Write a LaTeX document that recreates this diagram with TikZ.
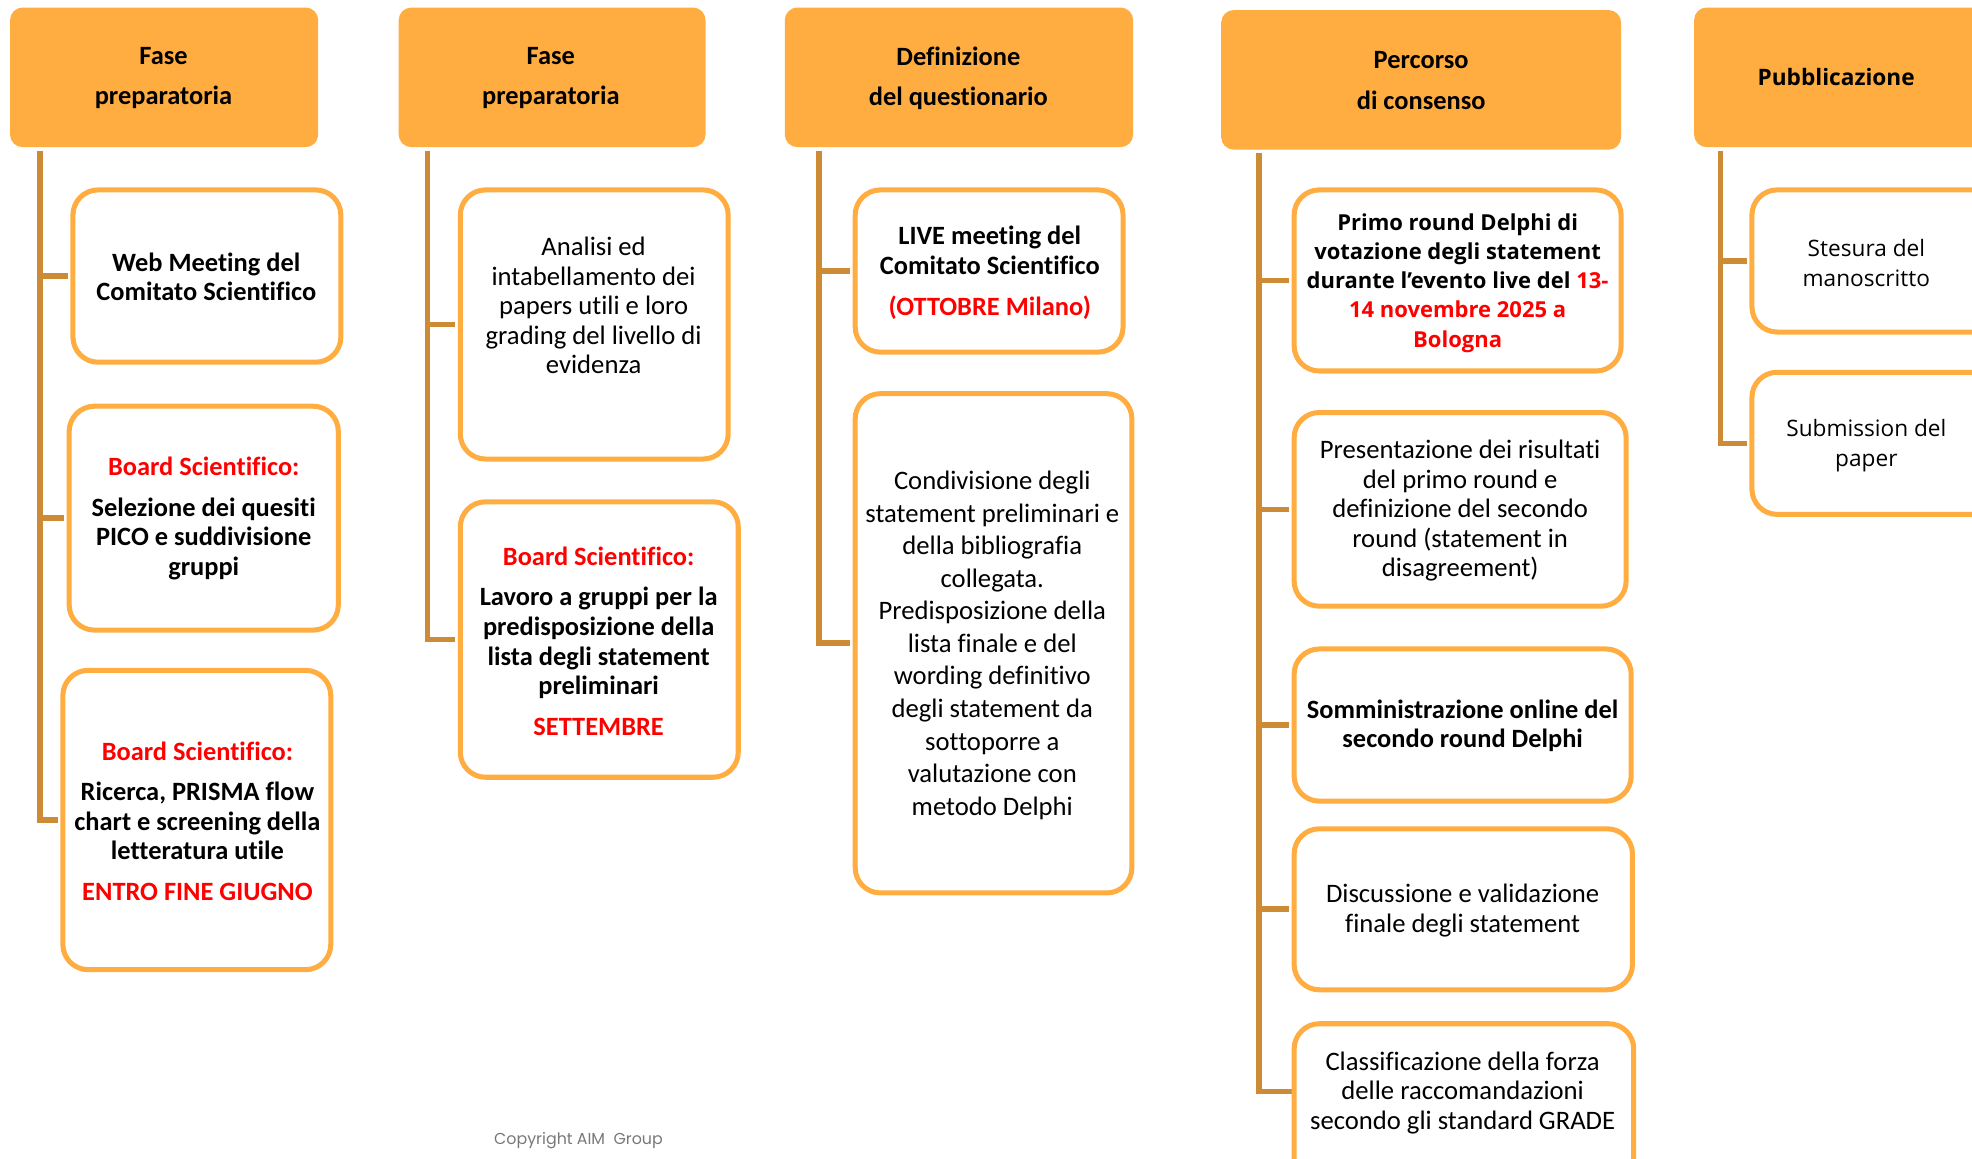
\documentclass[tikz,border=0pt]{standalone}
\usepackage{fontspec}
\setmainfont{Carlito}[Ligatures=NoCommon]
\newfontfamily\osans{Open Sans}
\newfontfamily\pops{Poppins}
\usetikzlibrary{fit,backgrounds}
\definecolor{hdr}{RGB}{255,173,64}
\definecolor{brd}{RGB}{255,173,64}
\definecolor{trk}{RGB}{205,139,53}
\definecolor{rd}{RGB}{255,0,0}
\definecolor{cpy}{RGB}{120,120,120}
\begin{document}
\begin{tikzpicture}[x=1pt,y=-1pt,
  hdrbox/.style={fill=hdr, rounded corners=10pt, inner sep=0pt},
  stagebox/.style={draw=brd, line width=4pt, fill=white, rounded corners=20pt, inner sep=0pt},
  trunk/.style={draw=trk, line width=4.5pt, line join=miter},
  txt/.style={align=center, inner sep=0pt, font=\fontsize{21.2}{23.5}\selectfont},
  btxt/.style={align=center, inner sep=0pt, font=\fontsize{21}{23.5}\selectfont\bfseries},
  htxt/.style={align=center, inner sep=0pt, font=\fontsize{21}{32}\selectfont\bfseries},
  otxt/.style={align=center, inner sep=0pt, font=\fontsize{18}{24}\selectfont\osans},
  obtxt/.style={align=center, inner sep=0pt, font=\fontsize{17.5}{23.3}\selectfont\osans\bfseries},
  ctxt/.style={align=center, inner sep=0pt, font=\fontsize{21.2}{25.9}\selectfont}
]
\useasboundingbox (0,0) rectangle (1568,921);

% headers
\node[hdrbox, fit={(8,6) (253,117)}] (h1) {};
\node[hdrbox, fit={(317,6) (561,117)}] (h2) {};
\node[hdrbox, fit={(624,6) (901,117)}] (h3) {};
\node[hdrbox, fit={(971,8) (1289,119)}] (h4) {};
\node[hdrbox, fit={(1347,6) (1600,117)}] (h5) {};
\node[htxt] (h1t) at (130,62) {Fase\\preparatoria};
\node[htxt] (h2t) at (438,62) {Fase\\preparatoria};
\node[htxt] (h3t) at (762,62) {Definizione\\del questionario};
\node[htxt] (h4t) at (1130,64) {Percorso\\di consenso};
\node[htxt, font=\fontsize{18}{24}\selectfont\osans\bfseries] (h5t) at (1460,61) {Pubblicazione};

% trunk tops
\coordinate (t1) at (32,120);
\coordinate (t2) at (340,120);
\coordinate (t3) at (651,120);
\coordinate (t4) at (1001,122);
\coordinate (t5) at (1368,120);

% box corners
\path (58,151) coordinate (b11a) (271,288) coordinate (b11b);
\path (55,323) coordinate (b12a) (269,501) coordinate (b12b);
\path (50,533) coordinate (b13a) (263,771) coordinate (b13b);
\path (366,151) coordinate (b21a) (579,365) coordinate (b21b);
\path (366,399) coordinate (b22a) (587,618) coordinate (b22b);
\path (680,151) coordinate (b31a) (893,280) coordinate (b31b);
\path (680,313) coordinate (b32a) (900,710) coordinate (b32b);
\path (1029,151) coordinate (b41a) (1289,295) coordinate (b41b);
\path (1029,328) coordinate (b42a) (1293,482) coordinate (b42b);
\path (1029,516) coordinate (b43a) (1297,637) coordinate (b43b);
\path (1029,659) coordinate (b44a) (1298,787) coordinate (b44b);
\path (1029,814) coordinate (b45a) (1299,950) coordinate (b45b);
\path (1393,151) coordinate (b51a) (1600,264) coordinate (b51b);
\path (1393,296) coordinate (b52a) (1600,409) coordinate (b52b);
\coordinate (k45) at (1029,868);

\node[stagebox, fit=(b11a)(b11b)] (b11) {};
\node[stagebox, fit=(b12a)(b12b)] (b12) {};
\node[stagebox, fit=(b13a)(b13b)] (b13) {};
\node[stagebox, fit=(b21a)(b21b)] (b21) {};
\node[stagebox, fit=(b22a)(b22b)] (b22) {};
\node[stagebox, fit=(b31a)(b31b)] (b31) {};
\node[stagebox, fit=(b32a)(b32b)] (b32) {};
\node[stagebox, fit=(b41a)(b41b)] (b41) {};
\node[stagebox, fit=(b42a)(b42b)] (b42) {};
\node[stagebox, fit=(b43a)(b43b)] (b43) {};
\node[stagebox, fit=(b44a)(b44b)] (b44) {};
\node[stagebox, fit=(b45a)(b45b)] (b45) {};
\node[stagebox, fit=(b51a)(b51b)] (b51) {};
\node[stagebox, fit=(b52a)(b52b)] (b52) {};

% connectors (behind boxes)
\begin{scope}[on background layer]
\foreach \t/\b in {t1/b11.west,t1/b12.west,t1/b13.west,t2/b21.west,t2/b22.west,t3/b31.west,t3/b32.west,t4/b41.west,t4/b42.west,t4/b43.west,t4/b44.west,t4/k45,t5/b51.west,t5/b52.west}
  \draw[trunk] (\t) |- ([xshift=-2pt]\b);
\end{scope}

% texts
\node[btxt] (x11) at (164,220) {Web Meeting del\\Comitato Scientifico};
\node[btxt] (x12) at (162,412) {\textcolor{rd}{Board Scientifico:}\\[9pt]Selezione dei quesiti\\PICO e suddivisione\\gruppi};
\node[btxt] (x13) at (157,653) {\textcolor{rd}{Board Scientifico:}\\[8.5pt]Ricerca, PRISMA flow\\chart e screening della\\letteratura utile\\[8.5pt]\textcolor{rd}{ENTRO FINE GIUGNO}};
\node[txt] (x21) at (472,243) {Analisi ed\\intabellamento dei\\papers utili e loro\\grading del livello di\\evidenza};
\node[btxt] (x22) at (476,510) {\textcolor{rd}{Board Scientifico:}\\[8.5pt]Lavoro a gruppi per la\\predisposizione della\\lista degli statement\\preliminari\\[9pt]\textcolor{rd}{SETTEMBRE}};
\node[btxt] (x31) at (787,217) {LIVE meeting del\\Comitato Scientifico\\[9.5pt]\textcolor{rd}{(OTTOBRE Milano)}};
\node[ctxt] (x32) at (789,513) {Condivisione degli\\statement preliminari e\\della bibliografia\\collegata.\\Predisposizione della\\lista finale e del\\wording definitivo\\degli statement da\\sottoporre a\\valutazione con\\metodo Delphi};
\node[obtxt] (x41) at (1159,225) {Primo round Delphi di\\votazione degli statement\\durante l’evento live del \textcolor{rd}{13-}\\\textcolor{rd}{14 novembre 2025 a}\\\textcolor{rd}{Bologna}};
\node[txt] (x42) at (1161,406) {Presentazione dei risultati\\del primo round e\\definizione del secondo\\round (statement in\\disagreement)};
\node[btxt] (x43) at (1163,577) {Somministrazione online del\\secondo round Delphi};
\node[txt] (x44) at (1163,724) {Discussione e validazione\\finale degli statement};
\node[txt] (x45) at (1163,869) {Classificazione della forza\\delle raccomandazioni\\secondo gli standard GRADE};
\node[otxt] (x51) at (1484,209) {Stesura del\\manoscritto};
\node[otxt] (x52) at (1484,354) {Submission del\\paper};

\node[inner sep=0pt, text=cpy, font=\fontsize{12.6}{14}\selectfont\pops] (cp) at (460,907) {Copyright AIM\ \ Group};
\end{tikzpicture}
\end{document}
